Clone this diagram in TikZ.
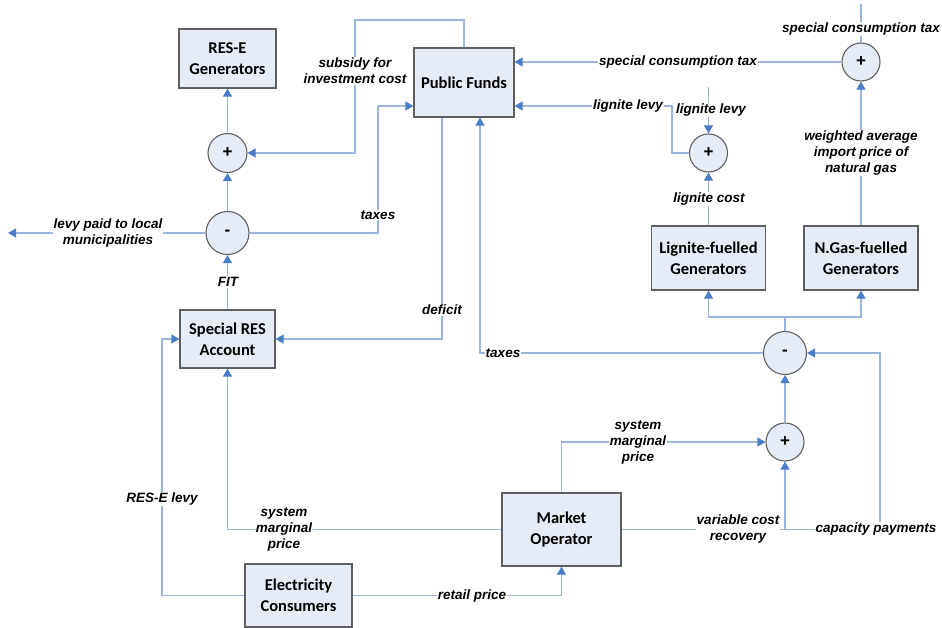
\documentclass[tikz,border=0pt]{standalone}
\usepackage{fontspec}
\setmainfont{Liberation Sans}
\newfontfamily\boxfont{Carlito}
\usepackage{tikz}
\usetikzlibrary{arrows.meta,positioning}
\definecolor{lineblue}{HTML}{9DB5DE}
\definecolor{arrowblue}{HTML}{4A7EC8}
\definecolor{boxfill}{HTML}{E6ECF7}
\definecolor{boxgray}{HTML}{5F5F5F}

\begin{document}
\begin{tikzpicture}[
    x=1pt, y=-1pt,
    box/.style={rectangle, draw=boxgray, fill=boxfill, line width=1.2pt, inner sep=0pt, align=center, font=\boxfont\bfseries\fontsize{16.5}{21}\selectfont},
    sum/.style={circle, draw=boxgray, fill=boxfill, line width=1.1pt, inner sep=0pt, minimum size=38pt, font=\bfseries\fontsize{17}{17}\selectfont},
    lbl/.style={fill=white, inner sep=1pt, align=center, font=\bfseries\itshape\fontsize{13.5}{16}\selectfont},
    wire/.style={draw=lineblue, line width=1.1pt},
    flow/.style={wire, -{Triangle[length=8pt, width=9pt, color=arrowblue]}}
]
    \useasboundingbox (0,0) rectangle (942,628);

    % Boxes
    \node[box, minimum width=97pt, minimum height=59pt] (resgen) at (227.5,58.5) {RES-E\\Generators};
    \node[box, minimum width=100pt, minimum height=69pt] (pubfund) at (464,82.5) {Public Funds};
    \node[box, minimum width=95pt, minimum height=58pt] (resacc) at (227.5,339) {Special RES\\Account};
    \node[box, minimum width=107pt, minimum height=63pt] (consumers) at (298.5,595.5) {Electricity\\Consumers};
    \node[box, minimum width=119pt, minimum height=73pt] (market) at (561.5,529.5) {Market\\Operator};
    \node[box, minimum width=114pt, minimum height=64pt] (lignite) at (708.5,258) {Lignite-fuelled\\Generators};
    \node[box, minimum width=114pt, minimum height=64pt] (ngas) at (861,258) {N.Gas-fuelled\\Generators};

    % Summing points
    \node[sum, minimum size=39pt] (sumres) at (227.5,153) {+};
    \node[sum, minimum size=43pt] (subres) at (227.5,233) {-};
    \node[sum] (sumlig) at (708.5,153) {+};
    \node[sum] (sumgas) at (861,62) {+};
    \node[sum] (sumcost) at (785,442) {+};
    \node[sum, minimum size=43pt] (subprof) at (785,353) {-};

    % Free ends
    \coordinate (levyout) at (8,233);
    \coordinate (ligin) at (708.5,87);
    \coordinate (gastop) at (861,4);
    \coordinate (split) at (785,317);

    % RES-E side
    \draw[flow] (sumres) -- (resgen);
    \draw[flow] (subres) -- (sumres);
    \draw[flow] (resacc) -- (subres);
    \draw[flow] (subres.west) -- (levyout);
    \draw[flow] (subres.east) -| (378,106) -- (pubfund.west |- 0,106);
    \draw[flow] (pubfund.north) |- (355,20) |- (sumres.east);
    \draw[flow] (pubfund.south -| 442,0) |- (resacc.east);
    \draw[flow] (consumers.west) -| (162,339) -- (resacc.west);
    \draw[flow] (market.west) -| (resacc.south);
    \draw[flow] (consumers.east) -| (market.south);

    % Conventional side
    \draw[flow] (subprof.west) -| (pubfund.south -| 480,0);
    \draw[flow] (sumgas.west) -- (pubfund.east |- sumgas.west);
    \draw[flow] (sumlig.west) -| (672,106) -- (pubfund.east |- 0,106);
    \draw[flow] (ligin) -- (sumlig);
    \draw[wire] (gastop) -- (sumgas);
    \draw[flow] (lignite) -- (sumlig);
    \draw[flow] (ngas) -- (sumgas);
    \draw[wire] (subprof) -- (split);
    \draw[flow] (split) -| (lignite.south);
    \draw[flow] (split) -| (ngas.south);
    \draw[flow] (sumcost) -- (subprof);
    \draw[flow] (market.north) |- (sumcost.west);
    \draw[flow] (market.east) -| (sumcost.south);
    \draw[flow] (sumcost.south |- market.east) -| (880,353) -- (subprof.east);

    % Labels on flows
    \node[lbl] (lblevy) at (108,233) {levy paid to local\\municipalities};
    \node[lbl] (lbfit) at (228,282) {FIT};
    \node[lbl] (lbsub) at (355,71) {subsidy for\\investment cost};
    \node[lbl] (lbtax1) at (378,215) {taxes};
    \node[lbl] (lbdef) at (442,310) {deficit};
    \node[lbl] (lbtax2) at (503,353) {taxes};
    \node[lbl] (lbsct1) at (678,62) {special consumption tax};
    \node[lbl] (lbsct2) at (861,29) {special consumption tax};
    \node[lbl] (lblev1) at (628,106) {lignite levy};
    \node[lbl] (lblev2) at (711,110) {lignite levy};
    \node[lbl] (lbcost) at (709,199) {lignite cost};
    \node[lbl] (lbwap) at (861,153) {weighted average\\import price of\\natural gas};
    \node[lbl] (lbsmp1) at (638,442) {system\\marginal\\price};
    \node[lbl] (lbvcr) at (738,529) {variable cost\\recovery};
    \node[lbl] (lbcap) at (876,529) {capacity payments};
    \node[lbl] (lbsmp2) at (284,529) {system\\marginal\\price};
    \node[lbl] (lbrese) at (162,499) {RES-E levy};
    \node[lbl] (lbretail) at (472,596) {retail price};

\end{tikzpicture}
\end{document}
